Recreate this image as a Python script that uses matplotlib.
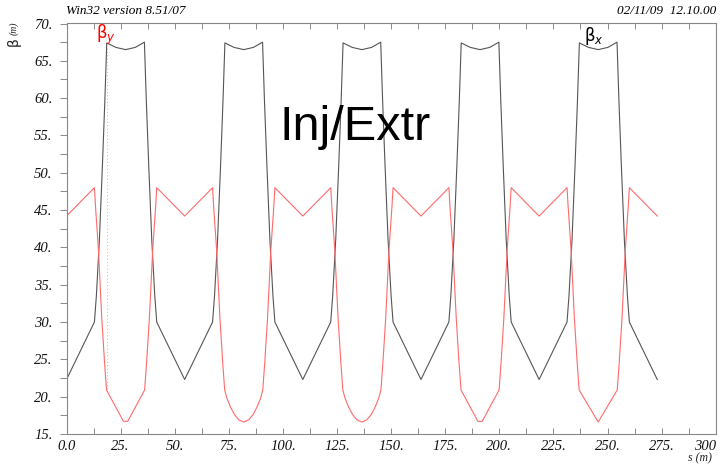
import matplotlib
matplotlib.use("Agg")
import matplotlib.pyplot as plt
from matplotlib.ticker import MultipleLocator, FuncFormatter

# beta_x (black), one cell per row
s_x = [0.0, 12.9, 13.8, 15.2, 16.6, 17.7, 18.6, 22.8, 27.3, 31.8, 36.0, 36.9, 38.0, 39.4, 40.8, 41.7,
       54.6, 67.5, 68.4, 69.8, 71.2, 72.3, 73.2, 77.4, 81.9, 86.4, 90.6, 91.5, 92.6, 94.0, 95.4, 96.3,
       109.2, 122.1, 123.0, 124.4, 125.8, 126.9, 127.8, 132.0, 136.5, 141.0, 145.2, 146.1, 147.2, 148.6, 150.0, 150.9,
       163.8, 176.7, 177.6, 179.0, 180.4, 181.5, 182.4, 186.6, 191.1, 195.6, 199.8, 200.7, 201.8, 203.2, 204.6, 205.5,
       218.4, 231.3, 232.2, 233.6, 235.0, 236.1, 237.0, 241.2, 245.7, 250.2, 254.4, 255.3, 256.4, 257.8, 259.2, 260.1,
       273.0]
betx = [22.3, 30.0, 33.5, 41.0, 51.0, 59.5, 67.4, 66.8, 66.5, 66.8, 67.5, 59.5, 51.0, 41.0, 33.5, 30.0,
        22.3, 30.0, 33.5, 41.0, 51.0, 59.5, 67.4, 66.8, 66.5, 66.8, 67.5, 59.5, 51.0, 41.0, 33.5, 30.0,
        22.3, 30.0, 33.5, 41.0, 51.0, 59.5, 67.4, 66.8, 66.5, 66.8, 67.5, 59.5, 51.0, 41.0, 33.5, 30.0,
        22.3, 30.0, 33.5, 41.0, 51.0, 59.5, 67.4, 66.8, 66.5, 66.8, 67.5, 59.5, 51.0, 41.0, 33.5, 30.0,
        22.3, 30.0, 33.5, 41.0, 51.0, 59.5, 67.4, 66.8, 66.5, 66.8, 67.5, 59.5, 51.0, 41.0, 33.5, 30.0,
        22.3]

# beta_y (red)
s_y = [0.0, 12.9, 13.4, 14.8, 16.3, 17.6, 18.5, 26.3, 28.3, 36.1, 37.0, 38.3, 39.8, 41.2, 41.7,
       54.6, 67.5, 68.0, 69.4, 70.9, 72.2, 73.1, 74.1, 75.8, 77.6, 79.6, 81.9, 84.2, 86.2, 88.0, 89.7, 90.7,
       91.6, 92.9, 94.4, 95.8, 96.3,
       109.2, 122.1, 122.6, 124.0, 125.5, 126.8, 127.7, 128.7, 130.4, 132.2, 134.2, 136.5, 138.8, 140.8, 142.6,
       144.3, 145.3, 146.2, 147.5, 149.0, 150.4, 150.9,
       163.8, 176.7, 177.2, 178.6, 180.1, 181.4, 182.3, 190.1, 192.1, 199.9, 200.8, 202.1, 203.6, 205.0, 205.5,
       218.4, 231.3, 231.8, 233.2, 234.7, 236.0, 236.9, 245.7, 254.5, 255.4, 256.7, 258.2, 259.6, 260.1,
       273.0]
bety = [44.2, 48.0, 45.5, 39.5, 30.5, 24.5, 20.9, 16.7, 16.7, 20.9, 24.5, 30.5, 39.5, 45.5, 48.0,
        44.2, 48.0, 45.5, 39.5, 30.5, 24.5, 20.9, 19.8, 18.6, 17.6, 16.9, 16.6, 16.9, 17.6, 18.6, 19.8, 20.9,
        24.5, 30.5, 39.5, 45.5, 48.0,
        44.2, 48.0, 45.5, 39.5, 30.5, 24.5, 20.9, 19.8, 18.6, 17.6, 16.9, 16.6, 16.9, 17.6, 18.6,
        19.8, 20.9, 24.5, 30.5, 39.5, 45.5, 48.0,
        44.2, 48.0, 45.5, 39.5, 30.5, 24.5, 20.9, 16.7, 16.7, 20.9, 24.5, 30.5, 39.5, 45.5, 48.0,
        44.2, 48.0, 45.5, 39.5, 30.5, 24.5, 20.9, 16.6, 20.9, 24.5, 30.5, 39.5, 45.5, 48.0,
        44.2]

# faint dotted marker under the beta_y label
marker_s = [18.6, 18.6]
marker_b = [21.0, 67.0]

W, H = 723, 465
fig = plt.figure(figsize=(W / 100, H / 100), dpi=100)
ax = fig.add_axes([66.5 / W, 1 - 434 / H, (715.7 - 66.5) / W, (434 - 23.5) / H])

ax.plot(s_x, betx, color="#555555", lw=0.8)
ax.plot(s_y, bety, color="#ff6a6a", lw=0.8)
ax.plot(marker_s, marker_b, color="#ff8080", lw=0.6, ls=(0, (1, 3)))

ax.set_xlim(0, 300)
ax.set_ylim(15, 70)

serif = "Liberation Serif"
tick_font = dict(family=serif, style="italic", size=9.5)

ax.xaxis.set_major_locator(MultipleLocator(25))
ax.xaxis.set_minor_locator(MultipleLocator(12.5))
ax.yaxis.set_major_locator(MultipleLocator(5))
ax.yaxis.set_minor_locator(MultipleLocator(2.5))
ax.xaxis.set_major_formatter(FuncFormatter(lambda v, p: "0.0" if v == 0 else "%d." % v if v < 300 else "300"))
ax.yaxis.set_major_formatter(FuncFormatter(lambda v, p: "%d." % v))

ax.tick_params(axis="x", which="both", direction="in", top=True, length=4, width=0.6,
               color="#777777", pad=4)
ax.tick_params(axis="y", which="both", direction="out", length=5, width=0.6,
               color="#777777", pad=5)
fig.canvas.draw()
for lab in ax.get_xticklabels() + ax.get_yticklabels():
    lab.set_fontfamily(serif)
    lab.set_fontstyle("italic")
    lab.set_fontsize(10.5)
    lab.set_color("#111111")
# last x label sits against the right edge
for lab in ax.get_xticklabels():
    if lab.get_text() == "300":
        lab.set_horizontalalignment("right")

for sp in ax.spines.values():
    sp.set_color("#888888")
    sp.set_linewidth(0.8)

def px(x, y):
    return x / W, 1 - y / H

fig.text(*px(66, 11), "Win32 version 8.51/07", ha="left", va="center", **tick_font)
fig.text(*px(716, 11), "02/11/09  12.10.00", ha="right", va="center", **tick_font)
fig.text(*px(14, 42), "β", rotation=90, ha="center", va="center", fontsize=10, color="#222222")
fig.text(*px(14, 28), "(m)", rotation=90, ha="center", va="center",
         family=serif, style="italic", size=7, color="#222222")
fig.text(*px(712, 458), "s (m)", ha="right", va="center", family=serif, style="italic",
         size=8.5, color="#222222")

ax.text(13.8, 66.9, r"β$_y$", color="red", fontsize=12, ha="left", va="bottom")
ax.text(239.0, 66.9, r"β$_x$", color="black", fontsize=12, ha="left", va="bottom")

fig.text(*px(355, 140), "Inj/Extr", family="Liberation Sans", fontsize=35,
         ha="center", va="baseline", color="black")

fig.savefig("out.png", dpi=100)
